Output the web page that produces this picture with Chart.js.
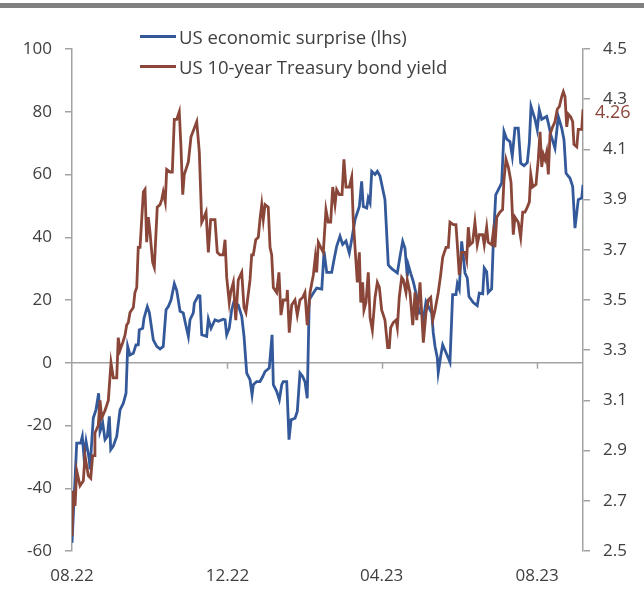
<!DOCTYPE html>
<html>
<head>
<meta charset="utf-8">
<script src="https://cdn.jsdelivr.net/npm/chart.js@4.4.1/dist/chart.umd.min.js"></script>
<style>
  body { margin: 0; background: #fff; }
  #wrap { position: relative; width: 644px; height: 599px; }
  #topbar { position: absolute; left: 0; top: 3px; width: 644px; height: 5px; background: #808080; }
  .leg { position: absolute; left: 140px; height: 20px; display: flex; align-items: center;
         font: 18.5px "Open Sans", sans-serif; color: #404040; white-space: nowrap; }
  .leg span.swatch { display: inline-block; width: 36px; height: 3px; margin-right: 3px; }
</style>
</head>
<body>
<div id="wrap">
  <canvas id="chart" width="644" height="599"></canvas>
  <div id="topbar"></div>
  <div id="legend"></div>
</div>
<script>
// days counted from 01.08.2022
const surpriseDays = [0, 3.7, 6.8, 8.1, 9.4, 11, 13.6, 14.1, 16.7, 18.8,
  20.9, 22, 24.1, 25.9, 27.7, 29.3, 30.4, 32.4, 35.1, 37.7,
  40.3, 42.4, 43.7, 45.5, 48.1, 50.2, 52, 52.8, 55.5, 56.5,
  59.1, 60.7, 63.8, 66.5, 69.1, 71.6, 73.8, 75.6, 77.7, 80.3,
  82.2, 84.8, 87.3, 88.4, 91.3, 92.6, 95.2, 96, 99.1, 100.4,
  101.8, 105.7, 107, 109.1, 112.2, 114.8, 118.7, 120.1, 121.4, 123.4,
  125.3, 127.1, 130.5, 133.2, 135, 137.1, 139.7, 141.3, 142.3, 144.9,
  147.5, 149.7, 151.5, 154.8, 157, 158, 160.6, 162.7, 164.6, 165.8,
  168.5, 170.3, 171.9, 175, 176.8, 178.9, 181, 182.8, 184.6, 186.2,
  189.4, 192, 196, 197.8, 199.9, 203.8, 205.6, 207.7, 210.3, 212.4,
  215, 217.6, 219.5, 222.1, 225.5, 227.3, 228.6, 231.3, 232.5, 233.9,
  235.2, 237.8, 239.6, 241.7, 245.6, 248.2, 250.9, 255.3, 257.4, 259.5,
  261.3, 263.1, 263.9, 265.8, 267.8, 270.5, 272.5, 274.4, 275.7, 277.8,
  279.6, 282.3, 283.5, 284.9, 286.7, 287.4, 289.3, 290.9, 292.7, 295.3,
  296.6, 298.7, 301.3, 302.4, 303.9, 305.8, 308.4, 310.2, 311.5, 314.9,
  318, 319.6, 322.3, 323.5, 325.4, 326.6, 329.3, 330.6, 332.5, 334.5,
  337.2, 339, 341.1, 343.7, 345.5, 347.6, 350.2, 352.1, 354.7, 357.3,
  358.9, 360.2, 363.4, 365.1, 366.7, 368.6, 372.5, 373.8, 375.7, 379,
  381.6, 384.3, 386.1, 387.7, 390.8, 392.9, 394.7, 397.3, 400, 401];
const surpriseValues = [-57.4, -25.6, -25.6, -23.5, -29.9, -25, -30.9, -34, -17.6, -15,
  -9.7, -21.9, -19.2, -24.5, -23.5, -17.1, -27.7, -26.6, -23.5, -15,
  -12.9, -9.7, 5.2, 2.5, 3, 5.7, 5.7, 10.5, 11, 14.2,
  17.9, 16, 7.3, 5.2, 4.4, 5.2, 16.9, 17.9, 20, 25.2,
  23, 16.4, 15.9, 13.7, 8.4, 13.7, 15.9, 19, 21.4, 21.3,
  8.9, 8.4, 13.9, 11, 13.7, 13.2, 13.9, 13.7, 8.9, 11,
  16.9, 19.5, 18.4, 14.8, 8.4, -3.3, -5.4, -10.2, -7, -6,
  -6, -4.4, -2.8, -1.7, 8.9, -7, -9.1, -11.8, -7, -6,
  -6, -24.5, -18.2, -17.7, -15.5, -3.3, -4.4, -6, -11.3, 20.1,
  22.2, 23.8, 23.5, 35.5, 28.8, 28.8, 32.8, 37.1, 40.3, 37.7,
  38.8, 35, 39.3, 45.6, 49.8, 57.8, 49.8, 49.3, 52.5, 51,
  61, 60, 61, 59.5, 52, 31.2, 30, 28.6, 33.9, 38.7,
  36.5, 27.5, 31.2, 28.5, 25.9, 21.1, 15.8, 15.8, 13.7, 19.5,
  18, 15.8, 9.5, 5.2, 1.5, -3.1, 2, 5.7, 4, 1.5,
  0.2, 21.7, 21.7, 25.2, 23.5, 38.7, 28.6, 27, 21.1, 19.2,
  18.2, 22.2, 22, 30.2, 29, 22.4, 23.5, 38.1, 53.5, 55.1,
  57.3, 73.7, 71.3, 70.5, 65.8, 74.8, 74.8, 63.6, 62.8, 63.8,
  70.2, 81.7, 77.5, 74.3, 80.6, 77.6, 78.5, 76.4, 72.7, 68.4,
  78.5, 74.8, 71, 60.4, 58.8, 56.2, 42.9, 52, 52.5, 56.7];

const yieldDays = [0, 1, 2.4, 3.7, 6.3, 8.9, 10.2, 12.8, 14.7, 16.2,
  17.3, 18, 20.6, 22, 23.3, 25.9, 28.5, 30.6, 32.4, 35.1,
  36.3, 37.7, 39.8, 41.6, 42.9, 44.2, 45.5, 48.1, 49.4, 50.8,
  52, 53.4, 54.7, 56, 57.3, 58.6, 59.9, 61.2, 63.3, 64.6,
  66.9, 69.1, 70.4, 71.6, 73.2, 74.3, 76.9, 78.7, 80.3, 82.2,
  84.2, 85.5, 86.9, 88.1, 91.3, 93.4, 97.9, 99.9, 101.8, 103.6,
  105.2, 107, 108.8, 112.2, 114, 116.1, 118.7, 120.1, 121.4, 123.4,
  124.5, 126.6, 128.5, 130.5, 133.2, 135, 136.5, 139.7, 141, 142.3,
  144.2, 146.2, 147.5, 148.9, 150.1, 151.5, 154, 155.4, 156.7, 158,
  160.6, 162.4, 164, 165.8, 168.5, 169, 170.5, 172.4, 175, 176.8,
  178.9, 181, 182.8, 184.6, 186.8, 189.4, 190.9, 192, 193.3, 195.2,
  197.2, 199.3, 201.1, 203, 204.6, 206.4, 207.7, 209.8, 211.9, 213.4,
  215, 217.6, 219.5, 220.7, 222.1, 223.9, 225.5, 226.6, 228.1, 229.1,
  230.7, 232.5, 233.9, 235.7, 237.8, 239.6, 241.2, 243, 245.6, 247.7,
  249, 250.1, 252.1, 254.3, 255.3, 256.8, 258.7, 260, 262.1, 263.1,
  265.2, 267.4, 269.2, 270.5, 273.1, 274.4, 275.7, 277.8, 279.6, 281.5,
  283.1, 284.9, 287.4, 289.3, 290.9, 293.5, 295.3, 296.6, 299.2, 301.3,
  302.4, 303.9, 305.8, 308.4, 309.7, 311, 312.3, 314.4, 316.2, 318,
  319.6, 322.3, 323.5, 325.4, 326.6, 329.3, 330.6, 331.9, 333.3, 335.8,
  337.9, 339, 340.6, 342.4, 344.5, 346.3, 347.6, 350.2, 352.1, 353.7,
  355.5, 357.3, 358.9, 360, 361.5, 364.1, 365.9, 367.3, 368.6, 369.9,
  371.2, 372.5, 373.8, 375.1, 377.2, 379, 380.8, 382.4, 384.3, 385.6,
  386.9, 388.2, 389.5, 391.3, 392.9, 393.9, 396.1, 397.3, 400, 401];
const yieldValues = [2.56, 2.74, 2.68, 2.82, 2.76, 2.78, 2.88, 2.80, 2.79, 2.88,
  2.88, 2.97, 3.00, 3.10, 3.03, 3.06, 3.10, 3.25, 3.19, 3.19,
  3.35, 3.30, 3.33, 3.36, 3.40, 3.41, 3.45, 3.47, 3.53, 3.55,
  3.71, 3.71, 3.82, 3.93, 3.94, 3.73, 3.83, 3.77, 3.65, 3.63,
  3.87, 3.88, 3.90, 3.93, 3.89, 4.02, 4.01, 4.01, 4.22, 4.22,
  4.25, 4.11, 3.92, 4.00, 4.05, 4.15, 4.21, 4.09, 3.81, 3.83,
  3.85, 3.69, 3.82, 3.82, 3.69, 3.68, 3.68, 3.74, 3.59, 3.49,
  3.53, 3.57, 3.42, 3.58, 3.61, 3.47, 3.45, 3.58, 3.68, 3.68,
  3.74, 3.75, 3.82, 3.88, 3.82, 3.88, 3.87, 3.71, 3.68, 3.55,
  3.53, 3.61, 3.44, 3.50, 3.50, 3.54, 3.37, 3.48, 3.50, 3.44,
  3.50, 3.51, 3.53, 3.40, 3.53, 3.60, 3.67, 3.61, 3.73, 3.71,
  3.69, 3.86, 3.81, 3.81, 3.95, 3.88, 3.94, 3.92, 3.92, 4.06,
  3.95, 3.95, 3.99, 3.82, 3.71, 3.57, 3.69, 3.49, 3.57, 3.46,
  3.49, 3.61, 3.43, 3.38, 3.51, 3.57, 3.55, 3.46, 3.42, 3.31,
  3.31, 3.39, 3.41, 3.42, 3.39, 3.51, 3.59, 3.58, 3.53, 3.58,
  3.53, 3.40, 3.53, 3.42, 3.57, 3.45, 3.33, 3.45, 3.50, 3.51,
  3.42, 3.46, 3.53, 3.60, 3.67, 3.71, 3.71, 3.81, 3.80, 3.80,
  3.72, 3.60, 3.69, 3.69, 3.66, 3.79, 3.72, 3.73, 3.81, 3.72,
  3.76, 3.76, 3.72, 3.79, 3.73, 3.72, 3.77, 3.71, 3.83, 3.85,
  3.86, 3.98, 4.06, 4.03, 3.97, 3.76, 3.83, 3.81, 3.75, 3.85,
  3.85, 3.87, 3.89, 4.00, 3.95, 3.96, 4.06, 4.17, 4.03, 4.08,
  4.06, 4.09, 4.00, 4.16, 4.19, 4.21, 4.26, 4.27, 4.31, 4.33,
  4.31, 4.19, 4.24, 4.23, 4.21, 4.12, 4.11, 4.18, 4.18, 4.26];

const seriesNames = ['US economic surprise (lhs)', 'US 10-year Treasury bond yield'];
const seriesColors = ['#34599a', '#8a4739'];

const xTickDays = [0, 122, 243, 365];
const xTickLabels = ['08.22', '12.22', '04.23', '08.23'];
const leftTicks = [-60, -40, -20, 0, 20, 40, 60, 80, 100];
const rightTicks = [2.5, 2.7, 2.9, 3.1, 3.3, 3.5, 3.7, 3.9, 4.1, 4.3, 4.5];
const lastYieldLabel = '4.26';

const axisColor = '#a3a3a3';
const textColor = '#404040';
const font = { family: '"Open Sans", sans-serif', size: 17 };

// legend (two stacked rows above the plot)
const legendEl = document.getElementById('legend');
const legendTops = [26, 56];
seriesNames.forEach(function (name, i) {
  const row = document.createElement('div');
  row.className = 'leg';
  row.style.top = legendTops[i] + 'px';
  row.innerHTML = '<span class="swatch" style="background:' + seriesColors[i] + '"></span>' + name;
  legendEl.appendChild(row);
});

// zero line with small date ticks + end label of the yield
const extrasPlugin = {
  id: 'extras',
  beforeDatasetsDraw(chart) {
    const { ctx, chartArea, scales } = chart;
    const y0 = scales.y.getPixelForValue(0);
    ctx.save();
    ctx.strokeStyle = axisColor;
    ctx.lineWidth = 1.5;
    ctx.beginPath();
    ctx.moveTo(chartArea.left, y0);
    ctx.lineTo(chartArea.right, y0);
    xTickDays.slice(1).forEach(function (d) {
      const x = Math.round(scales.x.getPixelForValue(d)) + 0.5;
      ctx.moveTo(x, y0);
      ctx.lineTo(x, y0 + 6);
    });
    ctx.stroke();
    ctx.restore();
  },
  afterDraw(chart) {
    const { ctx, chartArea, scales } = chart;
    const y = scales.y2.getPixelForValue(yieldValues[yieldValues.length - 1]);
    ctx.save();
    ctx.fillStyle = seriesColors[1];
    ctx.font = '18px ' + font.family;
    ctx.textAlign = 'left';
    ctx.textBaseline = 'middle';
    ctx.fillText(lastYieldLabel, chartArea.right + 12, y + 4);
    ctx.restore();
  }
};

const ctx = document.getElementById('chart').getContext('2d');
new Chart(ctx, {
  type: 'line',
  data: {
    datasets: [
      {
        label: seriesNames[0],
        data: surpriseDays.map((d, i) => ({ x: d, y: surpriseValues[i] })),
        borderColor: seriesColors[0],
        borderWidth: 2.8,
        pointRadius: 0,
        tension: 0,
        yAxisID: 'y',
        order: 1
      },
      {
        label: seriesNames[1],
        data: yieldDays.map((d, i) => ({ x: d, y: yieldValues[i] })),
        borderColor: seriesColors[1],
        borderWidth: 2.8,
        pointRadius: 0,
        tension: 0,
        yAxisID: 'y2',
        order: 0
      }
    ]
  },
  options: {
    responsive: false,
    animation: false,
    layout: { padding: { top: 49, left: 0, right: 0, bottom: 0 } },
    plugins: { legend: { display: false }, tooltip: { enabled: false } },
    scales: {
      x: {
        type: 'linear',
        min: 0,
        max: 401,
        grid: { display: false, drawTicks: false },
        border: { display: false },
        afterBuildTicks: axis => { axis.ticks = xTickDays.map(v => ({ value: v })); },
        afterFit: axis => { axis.height = 48; },
        ticks: {
          color: textColor,
          font: font,
          padding: 15,
          maxRotation: 0,
          autoSkip: false,
          callback: v => xTickLabels[xTickDays.indexOf(v)]
        }
      },
      y: {
        position: 'left',
        min: -60,
        max: 100,
        afterBuildTicks: axis => { axis.ticks = leftTicks.map(v => ({ value: v })); },
        afterFit: axis => { axis.width = 72; },
        grid: { drawOnChartArea: false, tickLength: 7, color: axisColor, lineWidth: 1.5 },
        border: { color: axisColor, width: 1.5 },
        ticks: { color: textColor, font: font, padding: 13 }
      },
      y2: {
        position: 'right',
        min: 2.5,
        max: 4.5,
        afterBuildTicks: axis => { axis.ticks = rightTicks.map(v => ({ value: v })); },
        afterFit: axis => { axis.width = 61; },
        grid: { drawOnChartArea: false, tickLength: 7, color: axisColor, lineWidth: 1.5 },
        border: { color: axisColor, width: 1.5 },
        ticks: { color: textColor, font: font, padding: 13, callback: v => v.toFixed(1) }
      }
    }
  },
  plugins: [extrasPlugin]
});
</script>
</body>
</html>
